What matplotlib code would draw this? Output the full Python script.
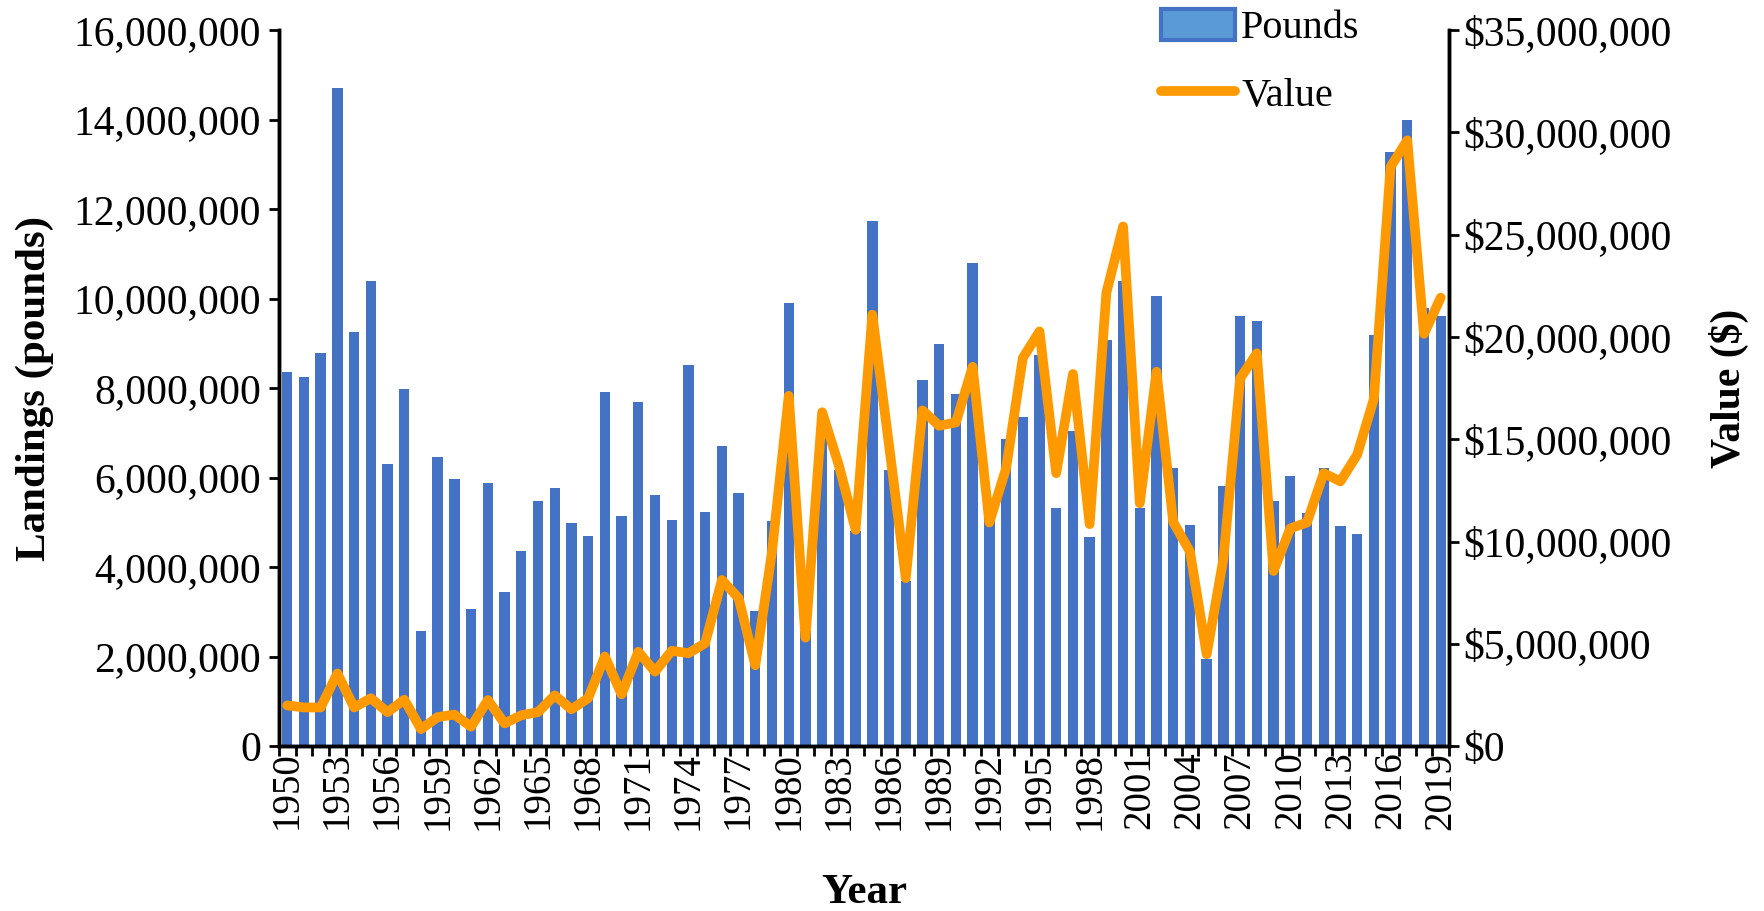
import matplotlib
matplotlib.use('Agg')
import matplotlib.pyplot as plt
from matplotlib.patches import Patch
from matplotlib.lines import Line2D
from matplotlib.ticker import FuncFormatter, MultipleLocator
import numpy as np

plt.rcParams['font.family'] = ['Liberation Serif', 'DejaVu Serif']

years = list(range(1950, 2020))

# landings, millions of pounds
pounds_m = [8.37, 8.25, 8.78, 14.71, 9.26, 10.40, 6.30, 7.99, 2.58, 6.45,
            5.97, 3.07, 5.89, 3.44, 4.35, 5.47, 5.77, 4.99, 4.69, 7.91,
            5.14, 7.70, 5.62, 5.06, 8.52, 5.22, 6.71, 5.66, 3.03, 5.03,
            9.90, 2.57, 7.10, 6.18, 4.80, 11.74, 6.18, 3.70, 8.18, 8.99,
            7.87, 10.80, 5.50, 6.87, 7.35, 8.74, 5.32, 7.04, 4.68, 9.08,
            10.40, 5.32, 10.05, 6.22, 4.95, 1.95, 5.81, 9.60, 9.49, 5.47,
            6.04, 5.21, 6.21, 4.91, 4.75, 9.19, 13.28, 13.99, 9.79, 9.60]

# value, millions of dollars
value_m = [1.99, 1.89, 1.89, 3.55, 1.89, 2.34, 1.66, 2.27, 0.83, 1.42,
           1.54, 0.95, 2.25, 1.11, 1.51, 1.66, 2.48, 1.80, 2.34, 4.38,
           2.53, 4.61, 3.64, 4.66, 4.54, 5.03, 8.12, 7.23, 3.95, 9.51,
           17.12, 5.30, 16.32, 13.72, 10.57, 21.09, 14.70, 8.21, 16.41, 15.66,
           15.82, 18.54, 10.93, 13.57, 18.97, 20.27, 13.34, 18.19, 10.85, 22.16,
           25.40, 11.87, 18.30, 10.95, 9.51, 4.49, 9.15, 17.97, 19.20, 8.56,
           10.64, 10.93, 13.34, 12.94, 14.24, 16.96, 28.31, 29.61, 20.15, 21.92]

pounds = np.array(pounds_m) * 1e6
value = np.array(value_m) * 1e6

BAR_COL = '#4472C4'
LINE_COL = '#FF9900'

fig = plt.figure(figsize=(17.65, 9.11), dpi=100)
ax = fig.add_axes([0.158, 0.181, 0.663, 0.786])
ax2 = ax.twinx()

x = np.arange(len(years))
ax.bar(x, pounds, width=0.62, color=BAR_COL, zorder=2)
ax2.plot(x, value, color=LINE_COL, lw=7, solid_joinstyle='round',
         solid_capstyle='round', zorder=3)

ax.set_xlim(-0.5, len(years) - 0.5)
ax.set_ylim(0, 16e6)
ax2.set_ylim(0, 35e6)
ax.yaxis.set_major_locator(MultipleLocator(2e6))
ax2.yaxis.set_major_locator(MultipleLocator(5e6))
ax.yaxis.set_major_formatter(FuncFormatter(lambda v, p: '{:,.0f}'.format(v)))
ax2.yaxis.set_major_formatter(FuncFormatter(lambda v, p: '${:,.0f}'.format(v)))

# labels every 3rd year, tick marks between every category
ax.set_xticks(x[::3])
ax.set_xticklabels([str(y) for y in years[::3]], rotation=90, fontsize=28)
ax.set_xticks(np.arange(-0.5, len(years)), minor=True)
ax.tick_params(axis='x', which='major', length=0, pad=4)
ax.tick_params(axis='x', which='minor', length=7, width=2, direction='out')
ax.tick_params(axis='y', length=7, width=2, labelsize=30, pad=6)
ax2.tick_params(axis='y', length=7, width=2, labelsize=30, pad=3)

for a in (ax, ax2):
    a.spines['top'].set_visible(False)
    for s in ('left', 'right', 'bottom'):
        a.spines[s].set_linewidth(2.5)

ax.set_xlabel('Year', fontsize=31, fontweight='bold', labelpad=32)
ax.set_ylabel('Landings (pounds)', fontsize=31, fontweight='bold', labelpad=14)
ax2.set_ylabel('Value ($)', fontsize=30, fontweight='bold', labelpad=27)

handles = [Patch(facecolor='#5B9BD5', edgecolor=BAR_COL, lw=3),
           Line2D([0], [0], color=LINE_COL, lw=7, solid_capstyle='round')]
fig.legend(handles, ['Pounds', 'Value'], loc='upper left',
           bbox_to_anchor=(0.637, 1.03), frameon=False, fontsize=29,
           handlelength=1.85, handleheight=0.8, handletextpad=0.15,
           labelspacing=0.72)

fig.savefig('out.png', dpi=100)
